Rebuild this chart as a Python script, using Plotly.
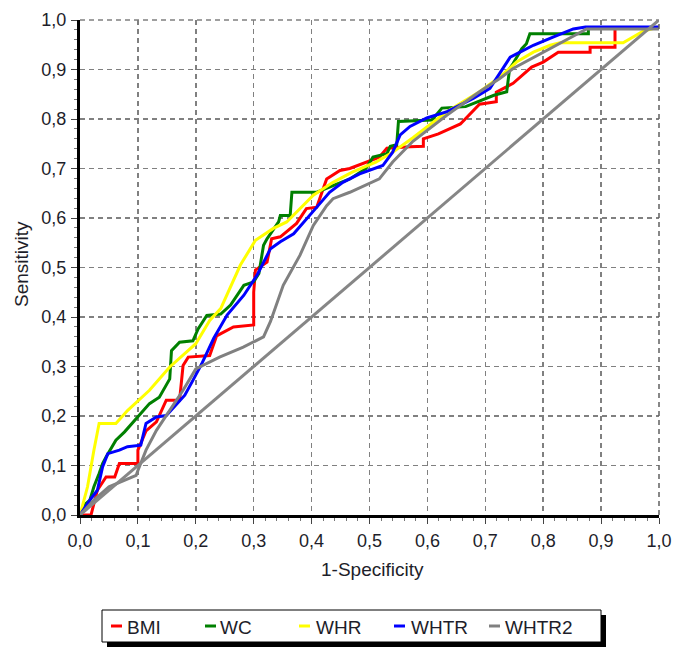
import plotly.graph_objects as go

# ---------------- data ----------------
bmi_x = [0.0, 0.019, 0.03, 0.045, 0.06, 0.068, 0.1, 0.1, 0.114, 0.132, 0.149, 0.172, 0.178, 0.187, 0.224,
         0.236, 0.265, 0.3, 0.3, 0.303, 0.323, 0.331, 0.346, 0.374, 0.391, 0.409, 0.42, 0.426, 0.449, 0.466,
         0.517, 0.53, 0.57, 0.593, 0.593, 0.619, 0.657, 0.673, 0.69, 0.719, 0.719, 0.748, 0.78, 0.8, 0.826,
         0.881, 0.881, 0.924, 0.924, 1.0]
bmi_y = [0.0, 0.0, 0.05, 0.077, 0.077, 0.104, 0.104, 0.131, 0.17, 0.188, 0.232, 0.232, 0.302, 0.319, 0.322,
         0.362, 0.38, 0.384, 0.45, 0.495, 0.511, 0.558, 0.562, 0.589, 0.619, 0.622, 0.659, 0.679, 0.696, 0.70,
         0.723, 0.741, 0.744, 0.745, 0.76, 0.77, 0.79, 0.81, 0.83, 0.835, 0.854, 0.872, 0.905, 0.915, 0.935,
         0.935, 0.945, 0.945, 0.985, 0.985]

wc_x = [0.0, 0.01, 0.017, 0.024, 0.033, 0.039, 0.045, 0.062, 0.077, 0.097, 0.12, 0.137, 0.155, 0.158, 0.172,
        0.195, 0.204, 0.219, 0.243, 0.26, 0.283, 0.3, 0.309, 0.317, 0.323, 0.343, 0.346, 0.363, 0.366, 0.409,
        0.437, 0.466, 0.494, 0.506, 0.53, 0.536, 0.547, 0.55, 0.608, 0.625, 0.666, 0.715, 0.737, 0.742, 0.748,
        0.763, 0.771, 0.777, 0.878, 0.878, 1.0]
wc_y = [0.0, 0.023, 0.03, 0.057, 0.084, 0.104, 0.117, 0.151, 0.168, 0.195, 0.225, 0.238, 0.275, 0.332, 0.349,
        0.352, 0.376, 0.403, 0.406, 0.424, 0.464, 0.471, 0.488, 0.545, 0.558, 0.592, 0.605, 0.605, 0.652, 0.652,
        0.666, 0.679, 0.70, 0.723, 0.73, 0.745, 0.748, 0.795, 0.798, 0.822, 0.825, 0.848, 0.855, 0.902, 0.912,
        0.942, 0.952, 0.972, 0.972, 0.985, 0.985]

whr_x = [0.0, 0.013, 0.024, 0.033, 0.062, 0.082, 0.12, 0.155, 0.2, 0.224, 0.243, 0.277, 0.303, 0.334, 0.357,
         0.38, 0.403, 0.437, 0.471, 0.511, 0.54, 0.575, 0.634, 0.69, 0.725, 0.754, 0.783, 0.812, 0.829, 0.938,
         0.972, 1.0]
whr_y = [0.0, 0.057, 0.131, 0.185, 0.185, 0.211, 0.252, 0.299, 0.346, 0.393, 0.417, 0.505, 0.555, 0.579, 0.592,
         0.619, 0.646, 0.672, 0.693, 0.713, 0.733, 0.762, 0.815, 0.855, 0.885, 0.915, 0.935, 0.949, 0.954, 0.954,
         0.977, 0.986]

whtr_x = [0.0, 0.017, 0.03, 0.039, 0.048, 0.068, 0.082, 0.105, 0.114, 0.132, 0.149, 0.163, 0.181, 0.195, 0.21,
          0.231, 0.254, 0.283, 0.306, 0.329, 0.346, 0.369, 0.391, 0.409, 0.431, 0.454, 0.483, 0.523, 0.54, 0.553,
          0.57, 0.599, 0.634, 0.657, 0.68, 0.708, 0.731, 0.743, 0.76, 0.783, 0.818, 0.852, 0.873, 1.0]
whtr_y = [0.0, 0.03, 0.05, 0.097, 0.124, 0.131, 0.138, 0.141, 0.185, 0.198, 0.201, 0.218, 0.242, 0.272, 0.305,
          0.357, 0.404, 0.444, 0.485, 0.538, 0.552, 0.568, 0.599, 0.622, 0.652, 0.672, 0.689, 0.706, 0.733, 0.768,
          0.785, 0.802, 0.815, 0.829, 0.842, 0.862, 0.902, 0.925, 0.935, 0.949, 0.966, 0.982, 0.986, 0.986]

whtr2_x = [0.0, 0.024, 0.05, 0.097, 0.1, 0.114, 0.132, 0.155, 0.178, 0.2, 0.241, 0.282, 0.317, 0.329, 0.351,
           0.38, 0.403, 0.426, 0.437, 0.466, 0.494, 0.517, 0.54, 0.575, 0.634, 0.69, 0.725, 0.748, 0.875, 1.0]
whtr2_y = [0.0, 0.03, 0.057, 0.08, 0.09, 0.131, 0.171, 0.211, 0.252, 0.295, 0.319, 0.339, 0.36, 0.391, 0.464,
           0.525, 0.585, 0.625, 0.639, 0.652, 0.666, 0.679, 0.713, 0.755, 0.808, 0.855, 0.882, 0.902, 0.982, 0.982]

ref_x = [0.0, 1.0]
ref_y = [0.0, 1.0]

tick_vals = [0.0, 0.1, 0.2, 0.3, 0.4, 0.5, 0.6, 0.7, 0.8, 0.9, 1.0]
tick_text = ["0,0", "0,1", "0,2", "0,3", "0,4", "0,5", "0,6", "0,7", "0,8", "0,9", "1,0"]

series_names = ["BMI", "WC", "WHR", "WHTR", "WHTR2"]
series_colors = ["#ff0000", "#008000", "#ffff00", "#0000ff", "#808080"]
series_x = [bmi_x, wc_x, whr_x, whtr_x, whtr2_x]
series_y = [bmi_y, wc_y, whr_y, whtr_y, whtr2_y]

# ---------------- layout geometry ----------------
W, H = 675, 650
L, R, T, B = 80, 16, 20, 135
PW, PH = W - L - R, H - T - B


def px(sx):
    """screen x pixel -> paper x"""
    return (sx - L) / PW


def py(sy):
    """screen y pixel -> paper y"""
    return (H - B - sy) / PH


FONT = "Liberation Sans, Arial, sans-serif"
TXT = "#1e1e2a"

fig = go.Figure()
for name, col, xs, ys in zip(series_names, series_colors, series_x, series_y):
    fig.add_trace(go.Scatter(x=xs, y=ys, mode="lines", name=name,
                             line=dict(color=col, width=3), showlegend=False))
fig.add_trace(go.Scatter(x=ref_x, y=ref_y, mode="lines", name="ref",
                         line=dict(color="#868686", width=3), showlegend=False))

axis_common = dict(
    range=[0, 1], tickvals=tick_vals, ticktext=tick_text,
    showgrid=True, gridcolor="#808080", gridwidth=1.5, griddash="5px,4px",
    zeroline=False, showline=True, linecolor="black", linewidth=3,
    ticks="outside", ticklen=6, tickwidth=1, tickcolor="#444",
    minor=dict(dtick=0.02, ticks="outside", ticklen=3, tickcolor="#777", showgrid=False),
    tickfont=dict(family=FONT, size=18, color=TXT),
    fixedrange=True, automargin=False,
)

fig.update_layout(
    width=W, height=H,
    margin=dict(l=L, r=R, t=T, b=B, autoexpand=False),
    paper_bgcolor="white", plot_bgcolor="white",
    xaxis=dict(**axis_common, ticklabelstandoff=1),
    yaxis=dict(**axis_common, ticklabelstandoff=1),
    showlegend=False,
)

shapes = [
    # dashed border at top and right
    dict(type="line", xref="paper", yref="paper", x0=0, x1=1, y0=1, y1=1,
         line=dict(color="#808080", width=1.5, dash="5px,4px")),
    dict(type="line", xref="paper", yref="paper", x0=1, x1=1, y0=0, y1=1,
         line=dict(color="#606060", width=1.5, dash="5px,4px")),
    # legend shadow and box
    dict(type="rect", xref="paper", yref="paper", x0=px(107), x1=px(606), y0=py(647), y1=py(615),
         fillcolor="black", line=dict(width=0), layer="above"),
    dict(type="rect", xref="paper", yref="paper", x0=px(102), x1=px(601), y0=py(642), y1=py(610),
         fillcolor="white", line=dict(color="black", width=1), layer="above"),
]

annotations = [
    dict(text="1-Specificity", xref="paper", yref="paper", x=px(372), y=py(569),
         showarrow=False, xanchor="center", yanchor="middle",
         font=dict(family=FONT, size=19, color=TXT)),
    dict(text="Sensitivity", xref="paper", yref="paper", x=px(21), y=py(264),
         showarrow=False, xanchor="center", yanchor="middle", textangle=-90,
         font=dict(family=FONT, size=19, color=TXT)),
]

sym_x = [111, 205, 299, 394, 489]
txt_x = [125, 218, 314, 409, 503]
for name, col, sx, tx in zip(series_names, series_colors, sym_x, txt_x):
    shapes.append(dict(type="line", xref="paper", yref="paper", x0=px(sx), x1=px(sx + 11),
                       y0=py(626), y1=py(626), line=dict(color=col, width=3), layer="above"))
    annotations.append(dict(text=name, xref="paper", yref="paper", x=px(tx), y=py(627),
                            showarrow=False, xanchor="left", yanchor="middle",
                            font=dict(family=FONT, size=19, color=TXT)))

fig.update_layout(shapes=shapes, annotations=annotations)

# remove the default page margin so the 675x650 figure fills the window exactly
fig.write_html("out.html",
               config={"displayModeBar": False, "staticPlot": True},
               post_script="document.body.style.margin='0';document.body.style.overflow='hidden';")
